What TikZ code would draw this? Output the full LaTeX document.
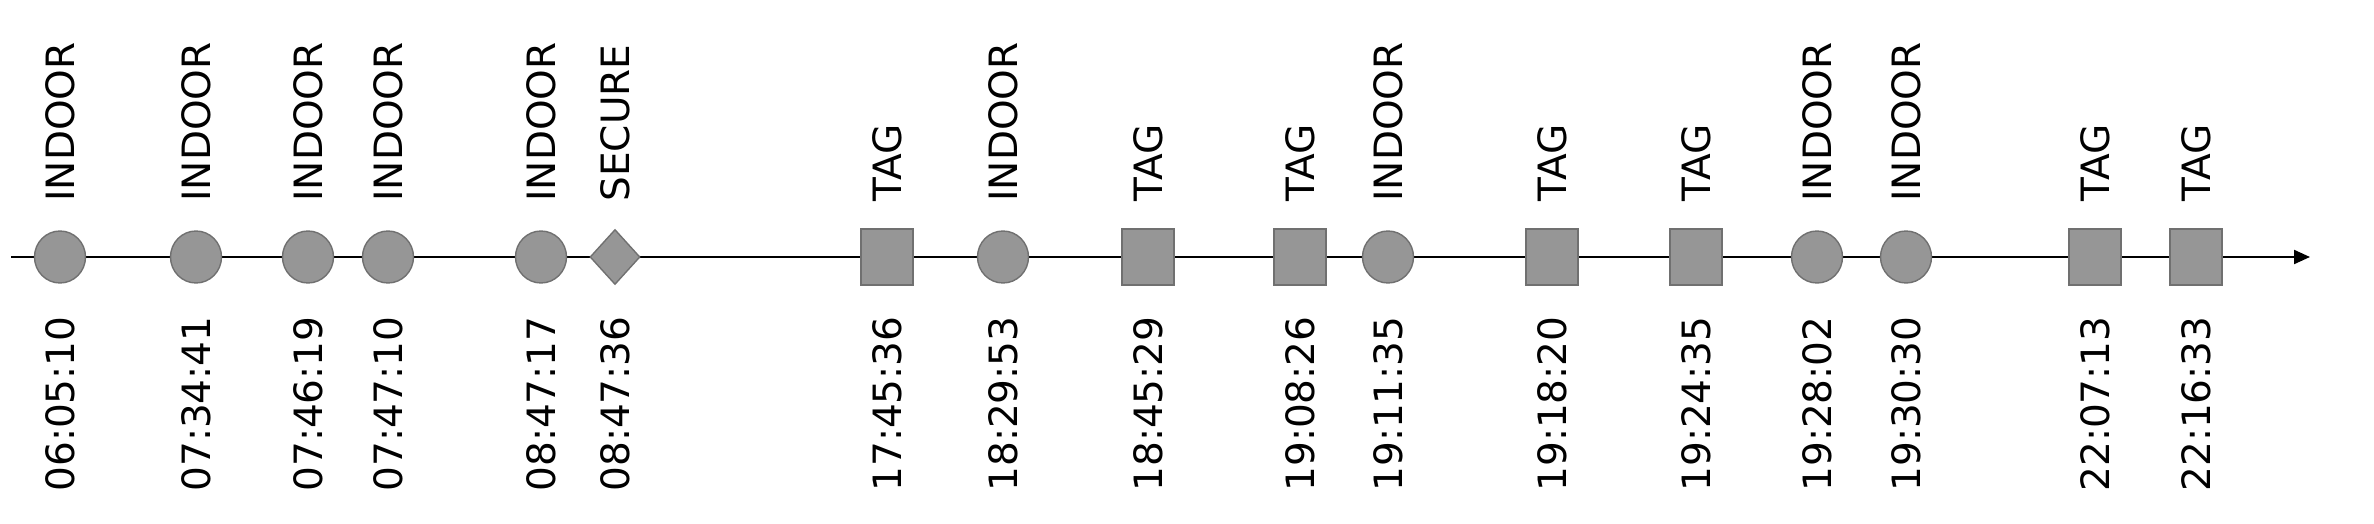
\documentclass[tikz,border=0pt]{standalone}
\usepackage{fontspec}
\setmainfont{DejaVu Sans}
\usetikzlibrary{arrows.meta,shapes.geometric}
\definecolor{evfill}{RGB}{150,150,150}
\definecolor{evdraw}{RGB}{112,112,112}
\tikzset{
  evbase/.style={fill=evfill,draw=evdraw,line width=0.7pt,inner sep=0pt},
  evcirc/.style={evbase,ellipse,minimum width=25.5pt,minimum height=26pt},
  evsq/.style={evbase,rectangle,minimum width=26pt,minimum height=28pt},
  evdia/.style={evbase,diamond,minimum width=25pt,minimum height=27.5pt},
  toplab/.style={rotate=90,anchor=west,inner sep=0pt,font=\fontsize{19.5pt}{23pt}\selectfont},
  timelab/.style={rotate=90,anchor=east,inner sep=0pt,font=\fontsize{19.5pt}{23pt}\selectfont},
  axisline/.style={line width=1.1pt,-{Triangle[length=8pt,width=7pt]}}
}
\begin{document}
\begin{tikzpicture}[x=0.5pt,y=-0.5pt]
\useasboundingbox (0,0) rectangle (2374,524);
\coordinate (axs) at (11,257);
\coordinate (axe) at (2310,257);
\draw[axisline] (axs) -- (axe);
\foreach \i/\x/\sty/\lab/\t in {
  1/60/evcirc/INDOOR/06:05:10,
  2/196/evcirc/INDOOR/07:34:41,
  3/308/evcirc/INDOOR/07:46:19,
  4/388/evcirc/INDOOR/07:47:10,
  5/541/evcirc/INDOOR/08:47:17,
  6/615/evdia/SECURE/08:47:36,
  7/887/evsq/TAG/17:45:36,
  8/1003/evcirc/INDOOR/18:29:53,
  9/1148/evsq/TAG/18:45:29,
  10/1300/evsq/TAG/19:08:26,
  11/1388/evcirc/INDOOR/19:11:35,
  12/1552/evsq/TAG/19:18:20,
  13/1696/evsq/TAG/19:24:35,
  14/1817/evcirc/INDOOR/19:28:02,
  15/1906/evcirc/INDOOR/19:30:30,
  16/2095/evsq/TAG/22:07:13,
  17/2196/evsq/TAG/22:16:33}{
  \node[\sty] (ev\i) at (\x,257) {};
  \node[toplab] (lab\i) at (\x,202) {\lab};
  \node[timelab] (tim\i) at (\x,316) {\t};
}
\end{tikzpicture}
\end{document}
